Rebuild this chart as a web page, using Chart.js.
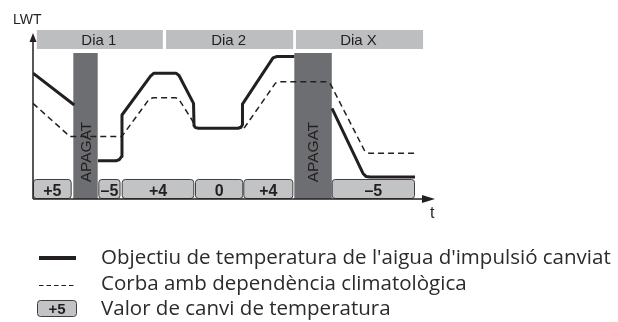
<!DOCTYPE html>
<html>
<head>
<meta charset="utf-8">
<script src="https://cdn.jsdelivr.net/npm/chart.js@4/dist/chart.umd.min.js"></script>
<style>
html,body{margin:0;padding:0;background:#fff;}
#wrap{position:relative;width:618px;height:322px;}
</style>
</head>
<body>
<div id="wrap"><canvas id="c" width="618" height="322"></canvas></div>
<script>
// time axis in hours, LWT in arbitrary units
const solidX = [0, 7.6, 9, 11.97, 15.28, 15.92, 16.29, 16.38, 21.63, 22.27, 26.32, 26.88, 29.55, 29.64, 29.91, 30.47, 37.74, 38.29, 38.56, 38.56, 44.18, 44.82, 48.1, 51, 55.04, 60.75, 61.3, 62.04, 70.32];
const solidY = [37.9, 28.3, null, 11.5, 11.5, 11.9, 12.8, 25.3, 37.0, 37.9, 37.9, 37.2, 28.8, 22.1, 21.5, 21.3, 21.3, 21.6, 22.4, 28.6, 42.5, 42.9, 42.9, null, 27.3, 7.7, 6.8, 6.6, 6.6];
const dashX = [0, 6.81, 16.33, 21.35, 22.09, 26.32, 26.88, 29.27, 30.0, 38.84, 44.64, 45.28, 54.12, 54.76, 61.11, 61.85, 70.32];
const dashY = [28.8, 18.8, 18.8, 30.0, 30.5, 30.5, 30.0, 23.8, 21.3, 21.3, 34.9, 35.3, 35.3, 34.6, 14.3, 13.8, 13.8];

const dayLabels = ['Dia 1', 'Dia 2', 'Dia X'];
const dayStart = [0.7, 24.5, 48.4];
const dayEnd = [23.9, 47.9, 71.8];

const offLabel = 'APAGAT';
const offStart = [7.42, 48.1];
const offEnd = [11.91, 55.0];

const boxLabels = ['+5', '\u20135', '+4', '0', '+4', '\u20135'];
const boxStart = [0, 12.02, 16.33, 29.82, 38.71, 54.99];
const boxEnd = [7.12, 16.11, 29.69, 38.71, 47.92, 70.32];

const legendTexts = [
  "Objectiu de temperatura de l'aigua d'impulsió canviat",
  "Corba amb dependència climatològica",
  "Valor de canvi de temperatura"
];
const legendBox = '+5';
const yTitle = 'LWT';
const xTitle = 't';

const INK = '#231f20';
const F = '"Liberation Sans", Arial, sans-serif';

function rrect(ctx, x, y, w, h, r) {
  ctx.beginPath();
  ctx.moveTo(x + r, y);
  ctx.lineTo(x + w - r, y);
  ctx.quadraticCurveTo(x + w, y, x + w, y + r);
  ctx.lineTo(x + w, y + h - r);
  ctx.quadraticCurveTo(x + w, y + h, x + w - r, y + h);
  ctx.lineTo(x + r, y + h);
  ctx.quadraticCurveTo(x, y + h, x, y + h - r);
  ctx.lineTo(x, y + r);
  ctx.quadraticCurveTo(x, y, x + r, y);
  ctx.closePath();
}

const overlay = {
  id: 'overlay',
  beforeDatasetsDraw(chart) {
    const {ctx, chartArea: a, scales: {x}} = chart;
    ctx.save();
    // day bands
    dayLabels.forEach((lab, i) => {
      const x0 = x.getPixelForValue(dayStart[i]), x1 = x.getPixelForValue(dayEnd[i]);
      ctx.fillStyle = '#bdbec0';
      ctx.fillRect(x0, a.top - 3, x1 - x0, 19);
      ctx.fillStyle = INK;
      ctx.font = '15px ' + F;
      ctx.textAlign = 'center';
      ctx.textBaseline = 'alphabetic';
      ctx.fillText(lab, (x0 + x1) / 2 - 1, a.top + 12);
    });
    // off bars
    offStart.forEach((s, i) => {
      const x0 = x.getPixelForValue(s), x1 = x.getPixelForValue(offEnd[i]);
      ctx.fillStyle = '#6d6e71';
      ctx.fillRect(x0, a.top + 20, x1 - x0, a.bottom - a.top - 20);
      ctx.save();
      ctx.translate((x0 + x1) / 2, a.bottom - 47);
      ctx.rotate(-Math.PI / 2);
      ctx.fillStyle = INK;
      ctx.font = '15.5px ' + F;
      ctx.textAlign = 'center';
      ctx.textBaseline = 'middle';
      ctx.fillText(offLabel, 0, 1);
      ctx.restore();
    });
    // change-value boxes
    boxLabels.forEach((lab, i) => {
      const x0 = x.getPixelForValue(boxStart[i]) + 0.5, x1 = x.getPixelForValue(boxEnd[i]) - 0.5;
      rrect(ctx, x0, a.bottom - 19.5, x1 - x0, 19, 3);
      ctx.fillStyle = '#c2c3c5';
      ctx.fill();
      ctx.lineWidth = 1;
      ctx.strokeStyle = '#3f3f41';
      ctx.stroke();
      ctx.fillStyle = INK;
      ctx.font = 'bold 16px ' + F;
      ctx.textAlign = 'center';
      ctx.textBaseline = 'alphabetic';
      ctx.fillText(lab, (x0 + x1) / 2, a.bottom - 3);
    });
    // axes
    ctx.strokeStyle = INK;
    ctx.fillStyle = INK;
    ctx.lineWidth = 1.5;
    ctx.beginPath();
    ctx.moveTo(a.left, a.bottom);
    ctx.lineTo(a.left, a.top + 6);
    ctx.moveTo(a.left, a.bottom);
    ctx.lineTo(a.right - 6, a.bottom);
    ctx.stroke();
    ctx.beginPath();
    ctx.moveTo(a.left, a.top);
    ctx.lineTo(a.left - 3.5, a.top + 9);
    ctx.lineTo(a.left + 3.5, a.top + 9);
    ctx.closePath();
    ctx.fill();
    ctx.beginPath();
    ctx.moveTo(a.right, a.bottom);
    ctx.lineTo(a.right - 13, a.bottom - 4);
    ctx.lineTo(a.right - 13, a.bottom + 4);
    ctx.closePath();
    ctx.fill();
    ctx.font = '14px ' + F;
    ctx.textAlign = 'left';
    ctx.textBaseline = 'alphabetic';
    ctx.fillText(yTitle, 13, 24);
    ctx.font = '16px ' + F;
    ctx.fillText(xTitle, a.right - 5, a.bottom + 19);
    ctx.restore();
  },
  afterDraw(chart) {
    const ctx = chart.ctx;
    ctx.save();
    // fit legend font to reference width
    const fam = '"Open Sans", sans-serif';
    ctx.font = '18px ' + fam;
    const w = ctx.measureText(legendTexts[0]).width;
    const fs = 18 * 510 / w;
    ctx.font = fs.toFixed(2) + 'px ' + fam;
    ctx.fillStyle = '#2b2b2b';
    ctx.textAlign = 'left';
    ctx.textBaseline = 'alphabetic';
    const base = [264, 290, 315];
    legendTexts.forEach((t, i) => ctx.fillText(t, 101, base[i]));
    // icons
    ctx.strokeStyle = INK;
    ctx.lineWidth = 4;
    ctx.beginPath(); ctx.moveTo(39, 258); ctx.lineTo(76, 258); ctx.stroke();
    ctx.lineWidth = 1.2;
    ctx.setLineDash([4.5, 3]);
    ctx.beginPath(); ctx.moveTo(39, 285.5); ctx.lineTo(76, 285.5); ctx.stroke();
    ctx.setLineDash([]);
    rrect(ctx, 37.5, 300.5, 39, 16, 3);
    ctx.fillStyle = '#c2c3c5'; ctx.fill();
    ctx.lineWidth = 1; ctx.strokeStyle = '#3f3f41'; ctx.stroke();
    ctx.fillStyle = INK;
    ctx.font = 'bold 15px ' + F;
    ctx.textAlign = 'center';
    ctx.fillText(legendBox, 57, 314);
    ctx.restore();
  }
};

new Chart(document.getElementById('c'), {
  type: 'line',
  data: {
    datasets: [
      {
        data: solidX.map((v, i) => ({x: v, y: solidY[i]})),
        borderColor: INK, borderWidth: 3, pointRadius: 0, spanGaps: false,
        borderJoinStyle: 'round', borderCapStyle: 'butt', tension: 0, order: 2
      },
      {
        data: dashX.map((v, i) => ({x: v, y: dashY[i]})),
        borderColor: INK, borderWidth: 1.5, borderDash: [6, 4], pointRadius: 0,
        tension: 0, order: 1
      }
    ]
  },
  options: {
    responsive: false, animation: false, devicePixelRatio: 1,
    layout: {padding: {left: 33, top: 33, right: 183, bottom: 123}},
    scales: {
      x: {type: 'linear', min: 0, max: 74, display: false},
      y: {type: 'linear', min: 0, max: 50, display: false}
    },
    plugins: {legend: {display: false}, tooltip: {enabled: false}},
    events: []
  },
  plugins: [overlay]
});
</script>
</body>
</html>
